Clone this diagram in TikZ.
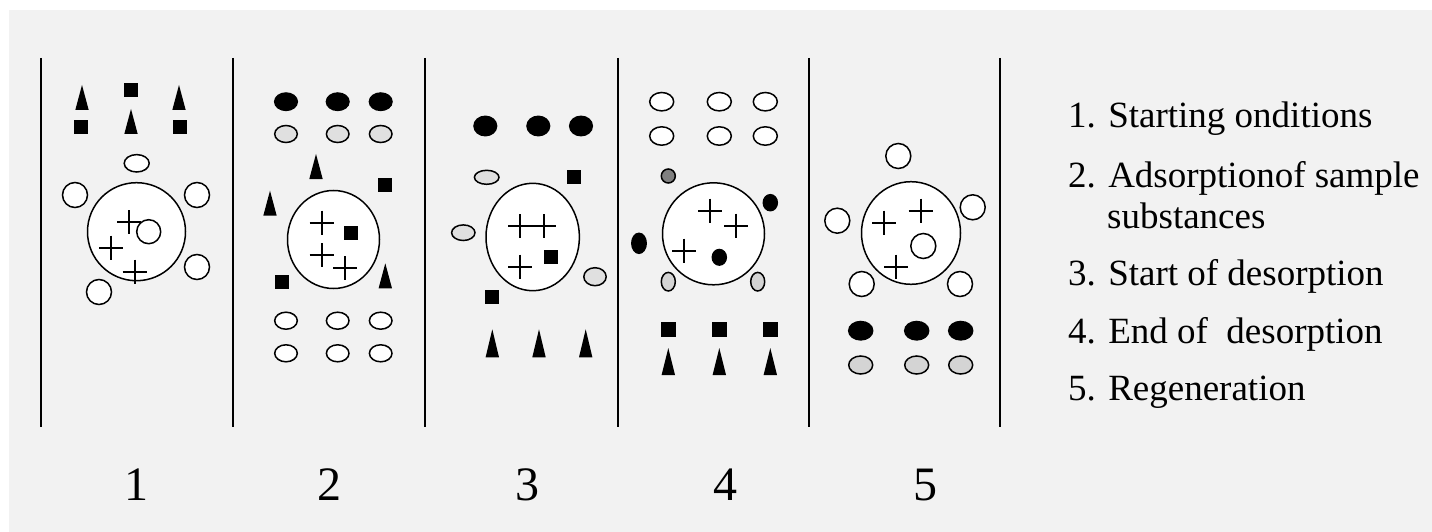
\documentclass[tikz,border=0pt]{standalone}
\usepackage{fontspec}
\setmainfont{Liberation Serif}
\definecolor{panelbg}{HTML}{F2F2F2}
\definecolor{lightfill}{HTML}{E0E0E0}
\definecolor{midfill}{HTML}{D4D4D4}
\definecolor{darkfill}{HTML}{808080}
\tikzset{
  outline/.style={draw=black, line width=1.5pt},
  pics/tri/.style={code={\fill (-6.7,0) -- (0,-#1) -- (6.7,0) -- cycle;}},
  pics/sq/.style={code={\fill (-#1,-#1) rectangle (#1,#1);}},
  pics/cross/.style={code={\draw[line width=2pt] (-12,0) -- (12,0) (0,-12) -- (0,12);}},
  divider/.style={line width=2pt},
  stagenum/.style={font=\fontsize{48}{50}\selectfont, anchor=base},
  legend/.style={font=\fontsize{37}{40}\selectfont, anchor=base west, inner sep=0pt},
}
\begin{document}
\begin{tikzpicture}[x=1pt, y=-1pt]
\useasboundingbox (0,0) rectangle (1432,532);
\fill[panelbg] (9,10) rectangle (1432,532);

% panel dividers
\foreach \x in {41,233,425,617.5,809,1000}
  \draw[divider] (\x,58) -- (\x,427);

% ---------- stage 1: starting conditions ----------
\pic at (82,110) {tri=25};
\pic at (131,134) {tri=25};
\pic at (179,110) {tri=25};
\pic at (131,90.5) {sq=7};
\pic at (81,127) {sq=7};
\pic at (179.5,127) {sq=7};
\draw[outline, fill=white] (136.7,163.3) ellipse [x radius=12.5, y radius=8.7];
\foreach \p in {(75,195),(197,195),(197,267),(99,292)}
  \draw[outline, fill=white] \p circle [radius=12.5];
\draw[outline, fill=white] (136.5,231.7) circle [radius=49];
\draw[outline, fill=white] (148.7,231.7) circle [radius=12];
\pic at (129.3,222.3) {cross};
\pic at (111,247.7) {cross};
\pic at (134.7,271.7) {cross};

% ---------- stage 2: adsorption ----------
\foreach \x in {286,337.7,380.7} {
  \draw[outline, fill=black] (\x,101.7) ellipse [x radius=11.3, y radius=8.7];
  \draw[outline, fill=lightfill] (\x,134) ellipse [x radius=11.3, y radius=8.5];
  \draw[outline, fill=white] (\x,320.7) ellipse [x radius=11.3, y radius=8.5];
  \draw[outline, fill=white] (\x,353.3) ellipse [x radius=11.3, y radius=8.5];
}
\pic at (316,179) {tri=25};
\pic at (270,215.7) {tri=25};
\pic at (385.3,288.3) {tri=25};
\pic at (385.3,185) {sq=7};
\draw[outline, fill=white] (333.5,239.5) ellipse [x radius=46, y radius=49];
\pic at (350.7,233.3) {sq=7};
\pic at (281.7,281.7) {sq=7};
\pic at (321.7,222.7) {cross};
\pic at (321.7,255) {cross};
\pic at (345,268.3) {cross};

% ---------- stage 3: start of desorption ----------
\foreach \x in {485.3,538.3,581}
  \draw[outline, fill=black] (\x,126) ellipse [x radius=11.3, y radius=9.7];
\draw[outline, fill=lightfill] (486.7,177.3) ellipse [x radius=12.3, y radius=7];
\pic at (574,177.3) {sq=7};
\draw[outline, fill=white] (532.7,237) ellipse [x radius=46.7, y radius=53.7];
\draw[outline, fill=lightfill] (463.3,232.7) ellipse [x radius=11.7, y radius=7.8];
\draw[outline, fill=lightfill] (595,276.7) ellipse [x radius=11.2, y radius=9];
\pic at (550.7,257.3) {sq=7};
\pic at (492.3,296.7) {sq=7};
\pic at (520,226) {cross};
\pic at (544.3,226) {cross};
\pic at (520,266.7) {cross};
\foreach \x in {492.3,539,585.7}
  \pic at (\x,357.3) {tri=28};

% ---------- stage 4: end of desorption ----------
\foreach \x in {661.7,719.3,765.3} {
  \draw[outline, fill=white] (\x,101.7) ellipse [x radius=12, y radius=9.2];
  \draw[outline, fill=white] (\x,136) ellipse [x radius=12, y radius=9.2];
}
\draw[outline, fill=darkfill] (668.3,176) circle [radius=7];
\draw[outline, fill=white] (713.5,233.8) circle [radius=51];
\draw[outline, fill=black] (770.3,202.7) ellipse [x radius=7, y radius=8];
\draw[outline, fill=black] (639,243.3) ellipse [x radius=7.2, y radius=10];
\draw[outline, fill=black] (719.3,257.3) ellipse [x radius=7, y radius=7.8];
\pic at (710,210.7) {cross};
\pic at (736,225.7) {cross};
\pic at (684,250.7) {cross};
\draw[outline, fill=midfill] (668.3,281.7) ellipse [x radius=7, y radius=9.3];
\draw[outline, fill=midfill] (757.7,281.7) ellipse [x radius=7, y radius=9.3];
\foreach \x in {668.3,719.3,770.3} {
  \pic at (\x,329.3) {sq=7.3};
  \pic at (\x,375) {tri=27};
}

% ---------- stage 5: regeneration ----------
\foreach \p in {(898.3,156),(837.3,220.7),(972.7,207.3),(861.7,284),(960,284)}
  \draw[outline, fill=white] \p circle [radius=12.5];
\draw[outline, fill=white] (911,233) ellipse [x radius=49.5, y radius=51.3];
\draw[outline, fill=white] (923.3,246) circle [radius=12.5];
\pic at (920.7,210.7) {cross};
\pic at (884,222.7) {cross};
\pic at (896,266.7) {cross};
\foreach \x in {860.7,916.7,960.7} {
  \draw[outline, fill=black] (\x,330.7) ellipse [x radius=12, y radius=9.2];
  \draw[outline, fill=midfill] (\x,365) ellipse [x radius=12, y radius=9];
}

% stage numbers
\node[stagenum] (n1) at (136,500) {1};
\node[stagenum] (n2) at (329,500) {2};
\node[stagenum] (n3) at (527,500) {3};
\node[stagenum] (n4) at (725,500) {4};
\node[stagenum] (n5) at (925,500) {5};

% legend
\node[legend] (l1) at (1068,128) {1. Starting onditions};
\node[legend] (l2) at (1068,187) {2. Adsorptionof sample};
\node[legend] (l2b) at (1107,228) {substances};
\node[legend] (l3) at (1068,285) {3. Start of desorption};
\node[legend] (l4) at (1068,343) {4. End of\ \ desorption};
\node[legend] (l5) at (1068,400) {5. Regeneration};
\end{tikzpicture}
\end{document}
